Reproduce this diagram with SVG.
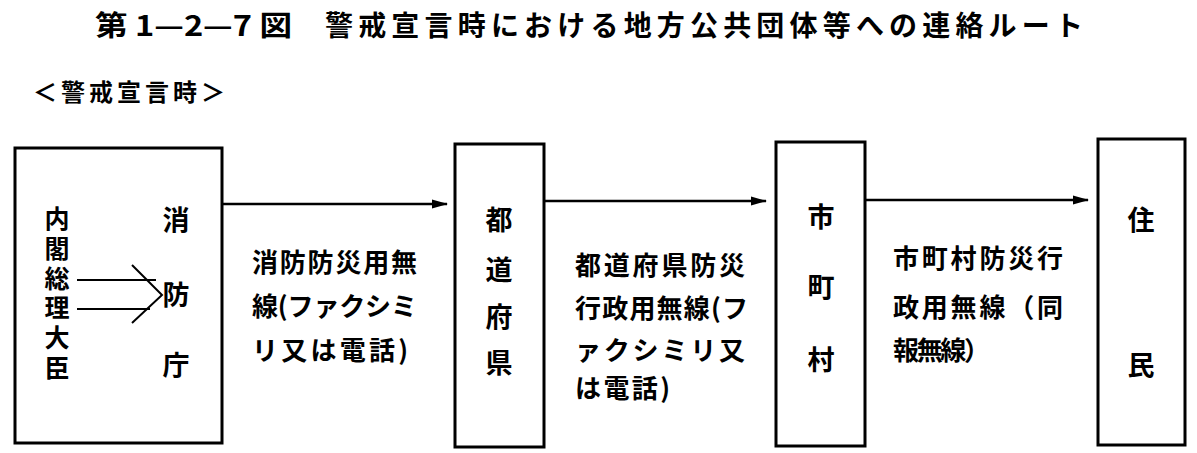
<svg xmlns="http://www.w3.org/2000/svg" width="1197" height="453" viewBox="0 0 1197 453">
<defs>
<style>
text{font-family:"Noto Sans CJK JP","Noto Sans CJK SC",sans-serif;fill:#000}
.title{font-size:28px;font-weight:700}
.sub{font-size:24px;font-weight:700}
.node{font-size:27px;font-weight:700;text-anchor:middle}
.vert{font-size:25px;font-weight:700;writing-mode:vertical-rl;text-anchor:start;letter-spacing:4.8px}
.lbl{font-size:26px;font-weight:700}
.box{fill:#fff;stroke:#000;stroke-width:3}
.conn{stroke:#000;stroke-width:2.5;fill:none}
.inner{stroke:#000;stroke-width:2;fill:none}
</style>
<marker id="ah" markerWidth="16" markerHeight="12" refX="15" refY="6" orient="auto" markerUnits="userSpaceOnUse">
<path d="M0,1.5 L16,6 L0,10.5 Z" fill="#000"/>
</marker>
</defs>
<rect width="1197" height="453" fill="#fff"/>
<text class="title" x="95" y="36" textLength="197" lengthAdjust="spacingAndGlyphs">第 1—2—7 図</text>
<text class="title" x="325" y="36" textLength="758" lengthAdjust="spacing">警戒宣言時における地方公共団体等への連絡ルート</text>
<text class="sub" x="33" y="101" textLength="192" lengthAdjust="spacing">＜警戒宣言時＞</text>

<g id="node-cabinet">
<rect class="box" x="15" y="148" width="207" height="295"/>
<text class="vert" x="57" y="206">内閣総理大臣</text>
<text class="node" x="176" y="230">消</text>
<text class="node" x="176" y="305">防</text>
<text class="node" x="176" y="375">庁</text>
<path class="inner" d="M77,280 H156 M77,309 H150 M132,265 L162,295 L132,323"/>
</g>

<g id="node-prefecture">
<rect class="box" x="455" y="144" width="89" height="303"/>
<text class="node" x="499" y="230">都</text>
<text class="node" x="499" y="280">道</text>
<text class="node" x="499" y="327">府</text>
<text class="node" x="499" y="373">県</text>
</g>

<g id="node-municipality">
<rect class="box" x="776" y="142" width="89" height="304"/>
<text class="node" x="821" y="227">市</text>
<text class="node" x="821" y="297">町</text>
<text class="node" x="821" y="370">村</text>
</g>

<g id="node-residents">
<rect class="box" x="1098" y="139" width="87" height="306"/>
<text class="node" x="1141" y="230">住</text>
<text class="node" x="1141" y="375">民</text>
</g>

<g id="connectors">
<line class="conn" x1="222" y1="204" x2="447" y2="204" marker-end="url(#ah)"/>
<line class="conn" x1="544" y1="201" x2="766" y2="201" marker-end="url(#ah)"/>
<line class="conn" x1="865" y1="200" x2="1088" y2="200" marker-end="url(#ah)"/>
<text class="lbl" x="252" y="272" textLength="165" lengthAdjust="spacing">消防防災用無</text>
<text class="lbl" x="252" y="316" textLength="165" lengthAdjust="spacing">線(ファクシミ</text>
<text class="lbl" x="252" y="360" textLength="156" lengthAdjust="spacing">リ又は電話)</text>
<text class="lbl" x="575" y="275" textLength="170" lengthAdjust="spacing">都道府県防災</text>
<text class="lbl" x="575" y="318" textLength="173" lengthAdjust="spacing">行政用無線(フ</text>
<text class="lbl" x="575" y="360" textLength="170" lengthAdjust="spacing">ァクシミリ又</text>
<text class="lbl" x="575" y="398" textLength="95" lengthAdjust="spacing">は電話)</text>
<text class="lbl" x="893" y="268" textLength="170" lengthAdjust="spacing">市町村防災行</text>
<text class="lbl" x="893" y="317" textLength="170" lengthAdjust="spacing">政用無線（同</text>
<text class="lbl" x="893" y="360" textLength="97" lengthAdjust="spacing">報無線）</text>
</g>
</svg>
